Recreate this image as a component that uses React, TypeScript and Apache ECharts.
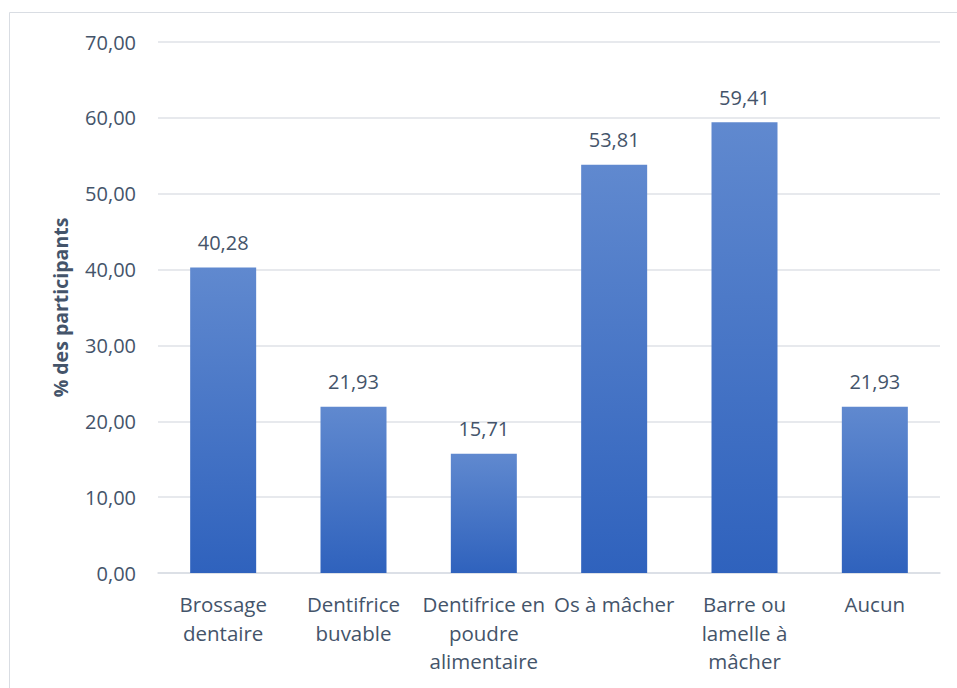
import React, { useEffect, useRef } from "react";
import * as echarts from "echarts";

const categories = [
  "Brossage\ndentaire",
  "Dentifrice\nbuvable",
  "Dentifrice en\npoudre\nalimentaire",
  "Os à mâcher",
  "Barre ou\nlamelle à\nmâcher",
  "Aucun",
];
const values = [40.28, 21.93, 15.71, 53.81, 59.41, 21.93];
const yAxisTitle = "% des participants";

const fmt = (v: number) => v.toFixed(2).replace(".", ",");
const FONT = "'Open Sans', Lato, sans-serif";
const TEXT = "#44546a";

export default function App() {
  const ref = useRef<HTMLDivElement>(null);
  useEffect(() => {
    if (!ref.current) return;
    const chart = echarts.init(ref.current, undefined, { renderer: "svg" });
    chart.setOption({
      animation: false,
      backgroundColor: "#ffffff",
      textStyle: { fontFamily: FONT, color: TEXT },
      graphic: [
        {
          type: "rect",
          shape: { x: 9.5, y: 12.5, width: 960, height: 700 },
          style: { fill: "none", stroke: "#d9dde3", lineWidth: 1 },
          silent: true,
        },
      ],
      grid: { left: 158, right: 17, top: 42, bottom: 115, containLabel: false },
      xAxis: {
        type: "category",
        data: categories,
        axisLine: { lineStyle: { color: "#d9dde4", width: 1.5 } },
        axisTick: { show: false },
        axisLabel: {
          color: TEXT,
          fontSize: 20.5,
          fontFamily: FONT,
          lineHeight: 28.5,
          margin: 17,
          interval: 0,
        },
      },
      yAxis: {
        type: "value",
        min: 0,
        max: 70,
        interval: 10,
        name: yAxisTitle,
        nameLocation: "middle",
        nameGap: 88,
        nameTextStyle: { color: TEXT, fontSize: 19.5, fontWeight: "bold", fontFamily: FONT },
        axisLine: { show: false },
        axisTick: { show: false },
        axisLabel: {
          color: TEXT,
          fontSize: 20,
          fontFamily: FONT,
          margin: 22,
          formatter: (v: number) => fmt(v),
        },
        splitLine: { lineStyle: { color: "#dfe2e7", width: 1.5 } },
      },
      series: [
        {
          type: "bar",
          data: values,
          barWidth: 66,
          itemStyle: {
            color: new echarts.graphic.LinearGradient(0, 0, 0, 1, [
              { offset: 0, color: "#6089cf" },
              { offset: 1, color: "#2f62bd" },
            ]),
          },
          label: {
            show: true,
            position: "top",
            distance: 15,
            color: TEXT,
            fontSize: 20,
            fontFamily: FONT,
            formatter: (p: any) => fmt(p.value),
          },
        },
      ],
    });
    return () => chart.dispose();
  }, []);
  return <div ref={ref} style={{ width: 957, height: 688, position: "absolute", left: 0, top: 0 }} />;
}
